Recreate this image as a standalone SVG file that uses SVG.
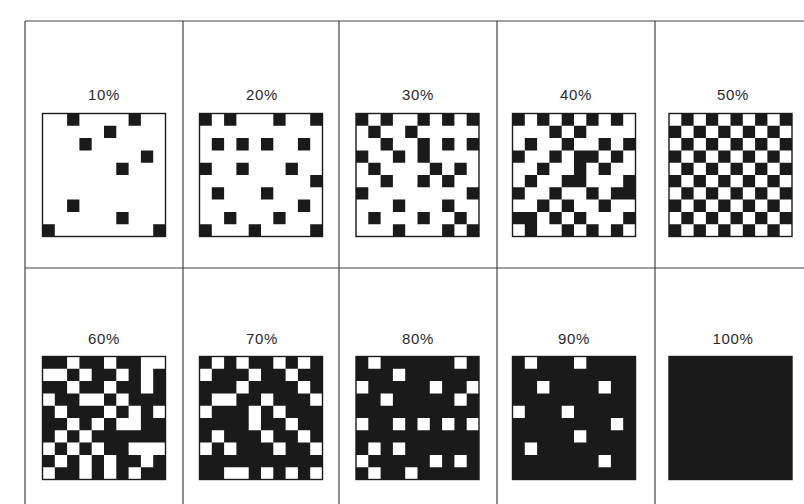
<svg xmlns="http://www.w3.org/2000/svg" width="804" height="504" viewBox="0 0 804 504">
<style>
.grid{stroke:#444;stroke-width:1.2;fill:none}
.box{fill:none;stroke:#1a1a1a;stroke-width:1.4}
.blk{fill:#1a1a1a}
.wht{fill:#fff}
.lbl{font-family:"Liberation Sans","DejaVu Sans",sans-serif;font-size:15px;letter-spacing:0.6px;fill:#2a2a2a;text-anchor:middle}
</style>
<rect width="804" height="504" fill="#fff"/>
<g id="grid">
<path class="grid" d="M25 21H804M25 268H804M25 21V504M183 21V504M339 21V504M497 21V504M655 21V504"/>
</g>
<g id="p10">
<text class="lbl" x="104" y="100">10%</text>
<path class="blk" transform="translate(42.5,113.5) scale(12.3)" d="M2 0h1v1h-1zM7 0h1v1h-1zM5 1h1v1h-1zM3 2h1v1h-1zM8 3h1v1h-1zM6 4h1v1h-1zM2 7h1v1h-1zM6 8h1v1h-1zM0 9h1v1h-1zM9 9h1v1h-1z"/>
<rect class="box" x="42.5" y="113.5" width="123" height="123"/>
</g>
<g id="p20">
<text class="lbl" x="262" y="100">20%</text>
<path class="blk" transform="translate(199.5,113.5) scale(12.3)" d="M0 0h1v1h-1zM2 0h1v1h-1zM6 0h1v1h-1zM9 0h1v1h-1zM1 2h1v1h-1zM3 2h1v1h-1zM5 2h1v1h-1zM8 2h1v1h-1zM0 4h1v1h-1zM3 4h1v1h-1zM7 4h1v1h-1zM9 5h1v1h-1zM1 6h1v1h-1zM5 6h1v1h-1zM8 7h1v1h-1zM2 8h1v1h-1zM6 8h1v1h-1zM0 9h1v1h-1zM4 9h1v1h-1zM9 9h1v1h-1z"/>
<rect class="box" x="199.5" y="113.5" width="123" height="123"/>
</g>
<g id="p30">
<text class="lbl" x="418" y="100">30%</text>
<path class="blk" transform="translate(356,113.5) scale(12.3)" d="M0 0h1v1h-1zM2 0h1v1h-1zM5 0h1v1h-1zM7 0h1v1h-1zM9 0h1v1h-1zM1 1h1v1h-1zM4 1h1v1h-1zM2 2h1v1h-1zM5 2h1v1h-1zM7 2h1v1h-1zM9 2h1v1h-1zM0 3h1v1h-1zM3 3h1v1h-1zM5 3h1v1h-1zM1 4h1v1h-1zM6 4h1v1h-1zM8 4h1v1h-1zM2 5h1v1h-1zM5 5h1v1h-1zM7 5h1v1h-1zM0 6h1v1h-1zM9 6h1v1h-1zM3 7h1v1h-1zM7 7h1v1h-1zM1 8h1v1h-1zM5 8h1v1h-1zM8 8h1v1h-1zM3 9h1v1h-1zM7 9h1v1h-1zM9 9h1v1h-1z"/>
<rect class="box" x="356" y="113.5" width="123" height="123"/>
</g>
<g id="p40">
<text class="lbl" x="576" y="100">40%</text>
<path class="blk" transform="translate(512.5,113.5) scale(12.3)" d="M0 0h1v1h-1zM2 0h1v1h-1zM4 0h1v1h-1zM6 0h1v1h-1zM8 0h1v1h-1zM3 1h1v1h-1zM5 1h1v1h-1zM1 2h1v1h-1zM4 2h1v1h-1zM7 2h1v1h-1zM9 2h1v1h-1zM0 3h1v1h-1zM3 3h1v1h-1zM5 3h1v1h-1zM6 3h1v1h-1zM8 3h1v1h-1zM2 4h1v1h-1zM5 4h1v1h-1zM7 4h1v1h-1zM1 5h1v1h-1zM4 5h1v1h-1zM5 5h1v1h-1zM9 5h1v1h-1zM0 6h1v1h-1zM3 6h1v1h-1zM6 6h1v1h-1zM8 6h1v1h-1zM9 6h1v1h-1zM2 7h1v1h-1zM4 7h1v1h-1zM7 7h1v1h-1zM0 8h1v1h-1zM1 8h1v1h-1zM3 8h1v1h-1zM5 8h1v1h-1zM9 8h1v1h-1zM1 9h1v1h-1zM4 9h1v1h-1zM6 9h1v1h-1zM8 9h1v1h-1z"/>
<rect class="box" x="512.5" y="113.5" width="123" height="123"/>
</g>
<g id="p50">
<text class="lbl" x="733" y="100">50%</text>
<path class="blk" transform="translate(669,113.5) scale(12.3)" d="M1 0h1v1h-1zM3 0h1v1h-1zM5 0h1v1h-1zM7 0h1v1h-1zM9 0h1v1h-1zM0 1h1v1h-1zM2 1h1v1h-1zM4 1h1v1h-1zM6 1h1v1h-1zM8 1h1v1h-1zM1 2h1v1h-1zM3 2h1v1h-1zM5 2h1v1h-1zM7 2h1v1h-1zM9 2h1v1h-1zM0 3h1v1h-1zM2 3h1v1h-1zM4 3h1v1h-1zM6 3h1v1h-1zM8 3h1v1h-1zM1 4h1v1h-1zM3 4h1v1h-1zM5 4h1v1h-1zM7 4h1v1h-1zM9 4h1v1h-1zM0 5h1v1h-1zM2 5h1v1h-1zM4 5h1v1h-1zM6 5h1v1h-1zM8 5h1v1h-1zM1 6h1v1h-1zM3 6h1v1h-1zM5 6h1v1h-1zM7 6h1v1h-1zM9 6h1v1h-1zM0 7h1v1h-1zM2 7h1v1h-1zM4 7h1v1h-1zM6 7h1v1h-1zM8 7h1v1h-1zM1 8h1v1h-1zM3 8h1v1h-1zM5 8h1v1h-1zM7 8h1v1h-1zM9 8h1v1h-1zM0 9h1v1h-1zM2 9h1v1h-1zM4 9h1v1h-1zM6 9h1v1h-1zM8 9h1v1h-1z"/>
<rect class="box" x="669" y="113.5" width="123" height="123"/>
</g>
<g id="p60">
<text class="lbl" x="104" y="344">60%</text>
<rect class="blk" x="42.5" y="356.5" width="123" height="123"/>
<path class="wht" transform="translate(42.5,356.5) scale(12.3)" d="M2 0h1v1h-1zM5 0h1v1h-1zM8 0h1v1h-1zM9 0h1v1h-1zM0 1h1v1h-1zM1 1h1v1h-1zM3 1h1v1h-1zM6 1h1v1h-1zM8 1h1v1h-1zM2 2h1v1h-1zM5 2h1v1h-1zM8 2h1v1h-1zM0 3h1v1h-1zM3 3h1v1h-1zM4 3h1v1h-1zM6 3h1v1h-1zM1 4h1v1h-1zM5 4h1v1h-1zM7 4h1v1h-1zM9 4h1v1h-1zM2 5h1v1h-1zM4 5h1v1h-1zM6 5h1v1h-1zM7 5h1v1h-1zM1 6h1v1h-1zM3 6h1v1h-1zM0 7h1v1h-1zM2 7h1v1h-1zM4 7h1v1h-1zM7 7h1v1h-1zM8 7h1v1h-1zM9 7h1v1h-1zM1 8h1v1h-1zM3 8h1v1h-1zM5 8h1v1h-1zM8 8h1v1h-1zM0 9h1v1h-1zM3 9h1v1h-1zM5 9h1v1h-1zM7 9h1v1h-1z"/>
<rect class="box" x="42.5" y="356.5" width="123" height="123"/>
</g>
<g id="p70">
<text class="lbl" x="262" y="344">70%</text>
<rect class="blk" x="199.5" y="356.5" width="123" height="123"/>
<path class="wht" transform="translate(199.5,356.5) scale(12.3)" d="M1 0h1v1h-1zM3 0h1v1h-1zM6 0h1v1h-1zM8 0h1v1h-1zM0 1h1v1h-1zM4 1h1v1h-1zM7 1h1v1h-1zM3 2h1v1h-1zM8 2h1v1h-1zM1 3h1v1h-1zM2 3h1v1h-1zM5 3h1v1h-1zM9 3h1v1h-1zM0 4h1v1h-1zM4 4h1v1h-1zM6 4h1v1h-1zM4 5h1v1h-1zM7 5h1v1h-1zM1 6h1v1h-1zM5 6h1v1h-1zM8 6h1v1h-1zM0 7h1v1h-1zM2 7h1v1h-1zM6 7h1v1h-1zM9 7h1v1h-1zM2 9h1v1h-1zM3 9h1v1h-1zM5 9h1v1h-1zM7 9h1v1h-1zM9 9h1v1h-1z"/>
<rect class="box" x="199.5" y="356.5" width="123" height="123"/>
</g>
<g id="p80">
<text class="lbl" x="418" y="344">80%</text>
<rect class="blk" x="356" y="356.5" width="123" height="123"/>
<path class="wht" transform="translate(356,356.5) scale(12.3)" d="M1 0h1v1h-1zM8 0h1v1h-1zM3 1h1v1h-1zM0 2h1v1h-1zM6 2h1v1h-1zM9 2h1v1h-1zM2 3h1v1h-1zM8 3h1v1h-1zM0 5h1v1h-1zM3 5h1v1h-1zM5 5h1v1h-1zM7 5h1v1h-1zM9 5h1v1h-1zM1 7h1v1h-1zM3 7h1v1h-1zM0 8h1v1h-1zM6 8h1v1h-1zM8 8h1v1h-1zM1 9h1v1h-1zM4 9h1v1h-1z"/>
<rect class="box" x="356" y="356.5" width="123" height="123"/>
</g>
<g id="p90">
<text class="lbl" x="574" y="344">90%</text>
<rect class="blk" x="512.5" y="356.5" width="123" height="123"/>
<path class="wht" transform="translate(512.5,356.5) scale(12.3)" d="M1 0h1v1h-1zM5 0h1v1h-1zM2 2h1v1h-1zM7 2h1v1h-1zM0 4h1v1h-1zM4 4h1v1h-1zM8 5h1v1h-1zM5 6h1v1h-1zM1 7h1v1h-1zM7 8h1v1h-1z"/>
<rect class="box" x="512.5" y="356.5" width="123" height="123"/>
</g>
<g id="p100">
<text class="lbl" x="733" y="344">100%</text>
<rect class="blk" x="669" y="356.5" width="123" height="123"/>
<rect class="box" x="669" y="356.5" width="123" height="123"/>
</g>
</svg>
